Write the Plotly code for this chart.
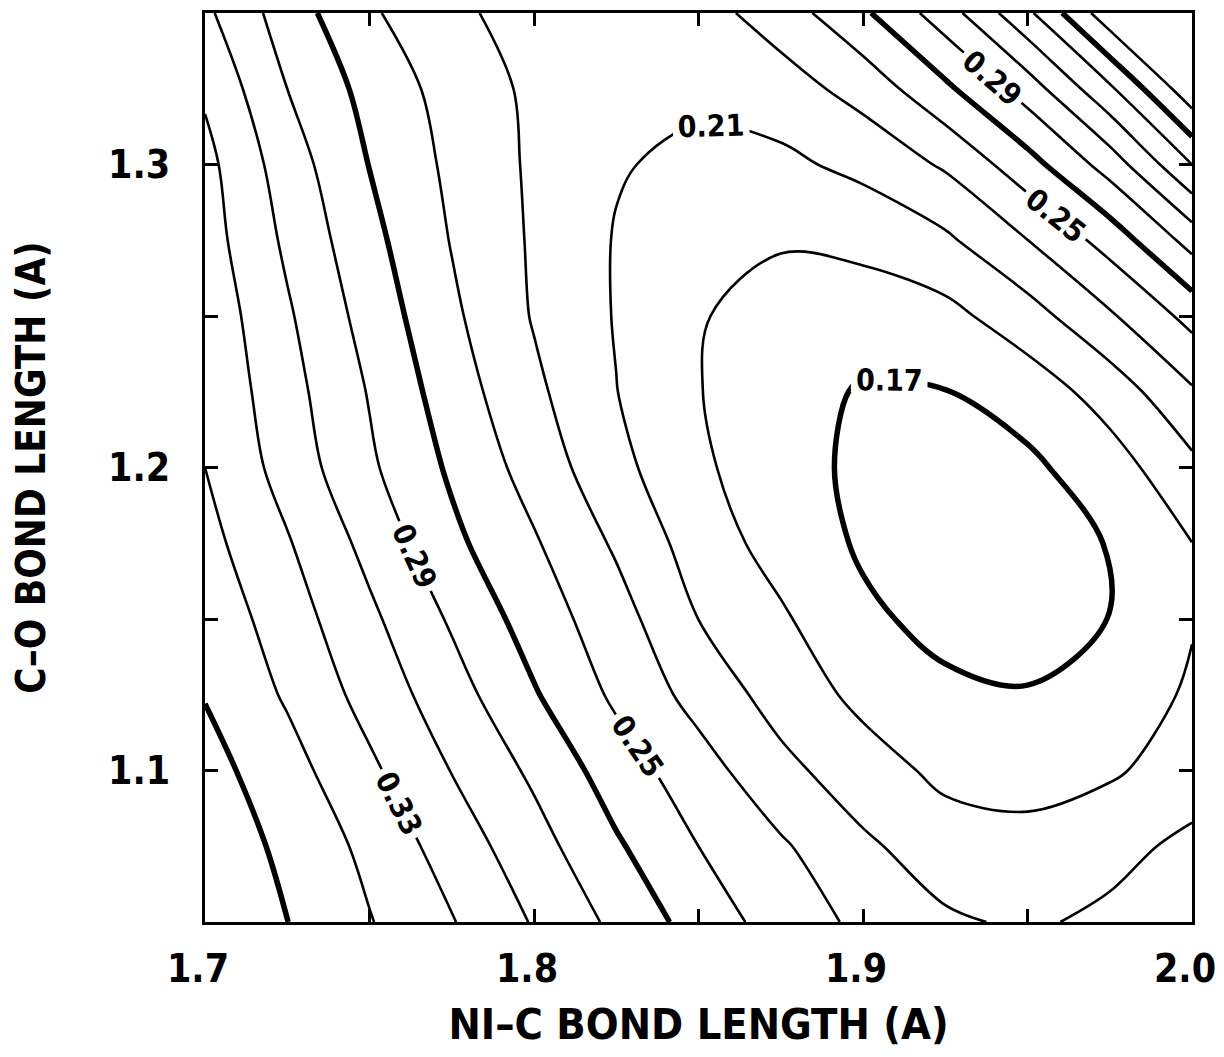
import plotly.graph_objects as go

# Ni-C bond length (x) and C-O bond length (y) grid, Angstrom
x_nic = [1.700, 1.725, 1.750, 1.775, 1.800, 1.825, 1.850, 1.875, 1.900, 1.925, 1.950, 1.975, 2.000]
y_co = [1.050, 1.075, 1.100, 1.125, 1.150, 1.175, 1.200, 1.225, 1.250, 1.275, 1.300, 1.325, 1.350]

# energy values, one row per C-O bond length
e_co_1050 = [0.386, 0.3702, 0.3511, 0.3312, 0.3084, 0.2855, 0.2616, 0.2412, 0.2256, 0.213, 0.207, 0.2145, 0.224]
e_co_1075 = [0.383, 0.3655, 0.3449, 0.3209, 0.2979, 0.2726, 0.250, 0.2327, 0.2135, 0.1995, 0.1958, 0.2033, 0.215]
e_co_1100 = [0.3775, 0.3577, 0.3338, 0.3094, 0.2862, 0.260, 0.2384, 0.2156, 0.1989, 0.1852, 0.1831, 0.1875, 0.1989]
e_co_1125 = [0.369, 0.3476, 0.3227, 0.2986, 0.2718, 0.2463, 0.2229, 0.2018, 0.1849, 0.1738, 0.1708, 0.1774, 0.193]
e_co_1150 = [0.364, 0.3396, 0.3141, 0.2875, 0.2608, 0.2383, 0.2099, 0.1928, 0.1735, 0.1645, 0.1645, 0.1702, 0.1885]
e_co_1175 = [0.3564, 0.3317, 0.304, 0.2746, 0.2521, 0.2272, 0.2006, 0.1821, 0.1675, 0.1632, 0.1645, 0.1705, 0.1898]
e_co_1200 = [0.350, 0.3221, 0.2932, 0.2669, 0.2418, 0.2159, 0.1936, 0.1775, 0.166, 0.1645, 0.166, 0.1811, 0.205]
e_co_1225 = [0.3465, 0.3174, 0.2887, 0.2598, 0.2342, 0.2104, 0.1906, 0.1794, 0.168, 0.1695, 0.179, 0.1985, 0.2275]
e_co_1250 = [0.3436, 0.3126, 0.2822, 0.2537, 0.2285, 0.2088, 0.1912, 0.183, 0.181, 0.184, 0.2015, 0.2274, 0.2564]
e_co_1275 = [0.339, 0.3063, 0.2758, 0.249, 0.2275, 0.2088, 0.197, 0.1915, 0.1945, 0.2064, 0.2298, 0.2578, 0.2976]
e_co_1300 = [0.336, 0.2998, 0.2695, 0.2457, 0.2268, 0.2115, 0.2055, 0.2055, 0.2155, 0.2326, 0.2621, 0.2986, 0.350]
e_co_1325 = [0.327, 0.290, 0.2634, 0.242, 0.226, 0.216, 0.214, 0.221, 0.2374, 0.2658, 0.2995, 0.3464, 0.404]
e_co_1350 = [0.314, 0.280, 0.2527, 0.2346, 0.221, 0.217, 0.222, 0.2396, 0.2666, 0.3005, 0.3458, 0.403, 0.450]

energy_rows = [e_co_1050, e_co_1075, e_co_1100, e_co_1125, e_co_1150, e_co_1175, e_co_1200,
               e_co_1225, e_co_1250, e_co_1275, e_co_1300, e_co_1325, e_co_1350]

x_tick_vals = [1.70, 1.75, 1.80, 1.85, 1.90, 1.95, 2.00]
x_tick_text = ["1.7", "", "1.8", "", "1.9", "", "2.0"]
y_tick_vals = [1.10, 1.15, 1.20, 1.25, 1.30]
y_tick_text = ["1.1", "", "1.2", "", "1.3"]

FONT = "DejaVu Sans Condensed, Liberation Sans Narrow, Arial Narrow, sans-serif"


def contour_trace(start, end, size, width, labels):
    return go.Contour(
        x=x_nic, y=y_co, z=energy_rows,
        autocontour=False,
        contours=dict(start=start, end=end, size=size, coloring="none",
                      showlabels=labels, labelformat=".2f",
                      labelfont=dict(family=FONT, size=30, color="black", weight="bold")),
        line=dict(color="black", width=width, smoothing=1.0),
        showscale=False, hoverinfo="skip",
    )


fig = go.Figure()
# thin unlabeled levels
fig.add_trace(contour_trace(0.19, 0.391, 0.04, 2.6, False))
# thick unlabeled levels
fig.add_trace(contour_trace(0.27, 0.371, 0.10, 5.5, False))
# thin labeled levels
fig.add_trace(contour_trace(0.21, 0.331, 0.04, 2.6, True))
# thick labeled minimum level
fig.add_trace(contour_trace(0.17, 0.175, 0.10, 5.5, True))

axis_common = dict(
    showgrid=False, zeroline=False,
    showline=True, linecolor="black", linewidth=3, mirror="ticks",
    ticks="inside", ticklen=13, tickwidth=2.5, tickcolor="black",
    tickfont=dict(family=FONT, size=39, color="black", weight="bold"),
    tickmode="array", ticklabeloverflow="allow",
)

# the page body adds an 8 px offset; the figure is sized so that the frame
# lands where the reference frame is
fig.update_layout(
    width=1216, height=1041,
    paper_bgcolor="white", plot_bgcolor="white",
    margin=dict(l=197, r=32, t=5, b=127, autoexpand=False),
    showlegend=False,
    xaxis=dict(range=[1.7, 2.0], tickvals=x_tick_vals, ticktext=x_tick_text,
               ticklabelstandoff=10, ticklabelshift=-7,
               title=dict(text="NI–C BOND LENGTH (A)", standoff=22,
                          font=dict(family=FONT, size=43, color="black", weight="bold")),
               **axis_common),
    yaxis=dict(range=[1.05, 1.35], tickvals=y_tick_vals, ticktext=y_tick_text,
               ticklabelstandoff=24,
               title=dict(text="C–O BOND LENGTH (A)", standoff=52,
                          font=dict(family=FONT, size=40, color="black", weight="bold")),
               **axis_common),
)

fig.write_html("out.html")
